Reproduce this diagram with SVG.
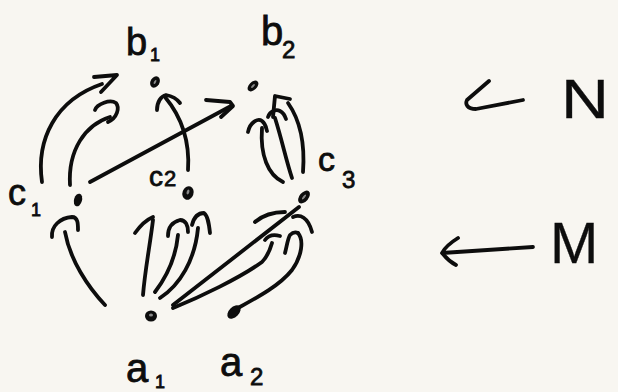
<svg xmlns="http://www.w3.org/2000/svg" width="618" height="392" viewBox="0 0 618 392">
<style>
.bg{fill:#f8f6f1}
.s{fill:none;stroke:#0d0d0d;stroke-width:3.8;stroke-linecap:round;stroke-linejoin:round}
.dot{fill:#0d0d0d}
.hl{fill:#8a8a8a}
text{font-family:"Liberation Sans","DejaVu Sans",sans-serif;fill:#0d0d0d;stroke:#0d0d0d;stroke-width:0.8}
text.big{stroke-width:0.3}
</style>
<rect class="bg" x="0" y="0" width="618" height="392"/>
<g id="connectors">
  <!-- c1 -> b1 outer -->
  <path class="s" d="M 42 182 C 36 140, 55 100, 102 84"/>
  <path class="s" d="M 94 77 L 117 75 L 101 92"/>
  <!-- c1 -> b1 inner -->
  <path class="s" d="M 70 185 C 68 150, 85 125, 110 117"/>
  <path class="s" d="M 95 110 C 97 104, 110 99, 116 103 C 120 108, 117 118, 108 122"/>
  <!-- c1 -> b2 -->
  <path class="s" d="M 90 182 L 231 106"/>
  <path class="s" d="M 206 100 L 230 102 L 233 106 L 221 117"/>
  <!-- c2 -> b1 -->
  <path class="s" d="M 188 170 C 190 140, 180 115, 165 97"/>
  <path class="s" d="M 157 110 C 157 102, 161 96, 166 95 C 172 96, 177 99, 180 103"/>
  <!-- c3 -> b2 (three) -->
  <path class="s" d="M 283 182 C 268 175, 260 155, 262 128"/>
  <path class="s" d="M 248 132 C 250 122, 258 118, 262 121 C 266 124, 266 128, 267 131"/>
  <path class="s" d="M 292 178 C 286 160, 282 140, 275 118"/>
  <path class="s" d="M 268 117 C 270 111, 276 109, 280 111 C 284 113, 285 116, 286 119"/>
  <path class="s" d="M 303 172 C 305 145, 300 120, 288 103"/>
  <path class="s" d="M 273 117 L 275 96 L 290 99"/>
  <!-- a1 -> c1 -->
  <path class="s" d="M 105 305 C 88 287, 70 260, 65 232"/>
  <path class="s" d="M 52 237 C 51 226, 60 218, 72 217 C 78 217, 78 224, 78 230"/>
  <!-- a1 -> c2 (three) -->
  <path class="s" d="M 143 295 C 145 270, 150 245, 153 220"/>
  <path class="s" d="M 135 233 C 140 226, 146 220, 153 217"/>
  <path class="s" d="M 155 292 C 168 275, 176 255, 178 235"/>
  <path class="s" d="M 168 236 C 168 228, 172 222, 180 220 C 186 220, 188 226, 188 232"/>
  <path class="s" d="M 160 298 C 180 285, 195 260, 198 228"/>
  <path class="s" d="M 192 225 C 194 217, 198 213, 204 213 C 208 216, 209 224, 210 233"/>
  <!-- a1 -> c3 straight -->
  <path class="s" d="M 173 305 L 299 207"/>
  <path class="s" d="M 255 222 C 262 216, 272 212, 285 212"/>
  <path class="s" d="M 293 217 C 300 214, 308 217, 312 232"/>
  <!-- a1 -> c3 curve -->
  <path class="s" d="M 173 308 C 200 297, 240 278, 262 262 C 268 256, 270 250, 272 243"/>
  <path class="s" d="M 265 240 Q 270 233 280 236"/>
  <path class="s" d="M 285 253 C 287 245, 288 238, 290 235 C 293 232, 296 232, 298 233"/>
  <!-- c3 -> a2 -->
  <path class="s" d="M 298 233 C 304 240, 302 256, 292 270 C 280 285, 260 296, 238 308"/>
  <!-- N arrow -->
  <path class="s" d="M 489 81 L 467 100 C 465 104, 467 109, 476 109 L 523 100"/>
  <!-- M arrow -->
  <path class="s" d="M 458 238 C 450 243, 444 249, 442 253 L 533 247"/>
  <path class="s" d="M 443 254 C 447 259, 452 263, 456 265"/>
</g>
<g id="b1">
  <ellipse class="dot" cx="155" cy="82" rx="4.5" ry="6" transform="rotate(30 155 82)"/>
  <ellipse class="hl" cx="155" cy="82" rx="1" ry="2.2" transform="rotate(30 155 82)"/>
  <text x="126" y="55" font-size="38">b</text>
  <text x="150" y="61" font-size="18">1</text>
</g>
<g id="b2">
  <ellipse class="dot" cx="253" cy="86" rx="4" ry="6.5" transform="rotate(45 253 86)"/>
  <ellipse class="hl" cx="253" cy="86" rx="1" ry="2.5" transform="rotate(45 253 86)"/>
  <text x="261" y="45" font-size="40">b</text>
  <text x="282" y="58" font-size="24">2</text>
</g>
<g id="c1">
  <ellipse class="dot" cx="78" cy="200" rx="4" ry="6.5" transform="rotate(15 78 200)"/>
  <text x="8" y="205" font-size="36">c</text>
  <text x="31" y="216" font-size="18">1</text>
</g>
<g id="c2">
  <ellipse class="dot" cx="188" cy="193" rx="5.5" ry="7" transform="rotate(20 188 193)"/>
  <ellipse class="hl" cx="188" cy="192" rx="1.3" ry="2.5" transform="rotate(20 188 192)"/>
  <text x="149" y="186" font-size="28">c</text>
  <text x="164" y="186" font-size="22">2</text>
</g>
<g id="c3">
  <ellipse class="dot" cx="304" cy="197" rx="4.5" ry="7.5" transform="rotate(40 304 197)"/>
  <ellipse class="hl" cx="304" cy="197" rx="1" ry="3" transform="rotate(40 304 197)"/>
  <text x="318" y="171" font-size="34">c</text>
  <text x="342" y="188" font-size="24">3</text>
</g>
<g id="a1">
  <ellipse class="dot" cx="151" cy="316" rx="6" ry="5.5"/>
  <ellipse class="hl" cx="151" cy="315" rx="2" ry="1.5"/>
  <text x="126" y="382" font-size="40">a</text>
  <text x="155" y="388" font-size="18">1</text>
</g>
<g id="a2">
  <ellipse class="dot" cx="234" cy="312" rx="5" ry="8" transform="rotate(45 234 312)"/>
  <text x="220" y="376" font-size="40">a</text>
  <text x="250" y="385" font-size="24">2</text>
</g>
<g id="N">
  <text class="big" x="561" y="118" font-size="56" textLength="48" lengthAdjust="spacingAndGlyphs">N</text>
</g>
<g id="M">
  <text class="big" x="550" y="263" font-size="58">M</text>
</g>
</svg>
